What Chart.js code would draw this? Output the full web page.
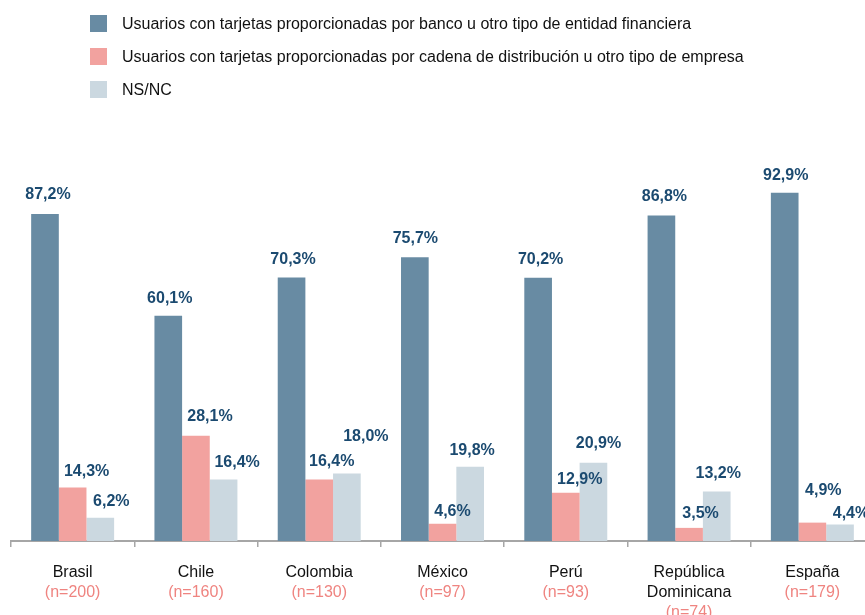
<!DOCTYPE html>
<html lang="es">
<head>
<meta charset="utf-8">
<title>Tarjetas por tipo de emisor</title>
<script src="https://cdn.jsdelivr.net/npm/chart.js@4.4.1/dist/chart.umd.min.js"></script>
<style>
  html, body { margin: 0; padding: 0; background: #fff; overflow: hidden; }
  #wrap { position: relative; width: 865px; height: 615px; overflow: hidden; }
  #chart { position: absolute; left: 0; top: 0; }
  #legend { position: absolute; left: 90px; top: 15px; font-family: "Liberation Sans", Arial, sans-serif; font-size: 16px; color: #111; }
  #legend .item { display: flex; align-items: center; height: 17px; margin-bottom: 16px; white-space: nowrap; }
  #legend .box { width: 17px; height: 17px; margin-right: 15px; flex: none; }
</style>
</head>
<body>
<div id="wrap">
  <canvas id="chart" width="874" height="615"></canvas>
  <div id="legend"></div>
</div>
<script>
// Countries (multi-line where the name wraps) and their sample sizes
const countries = [['Brasil'], ['Chile'], ['Colombia'], ['México'], ['Perú'], ['República', 'Dominicana'], ['España']];
const sampleSizes = [200, 160, 130, 97, 93, 74, 179];

// Share of card users by who issued the card (%)
const seriesNames = [
  'Usuarios con tarjetas proporcionadas por banco u otro tipo de entidad financiera',
  'Usuarios con tarjetas proporcionadas por cadena de distribución u otro tipo de empresa',
  'NS/NC'
];
const banco  = [87.2, 60.1, 70.3, 75.7, 70.2, 86.8, 92.9];
const cadena = [14.3, 28.1, 16.4, 4.6, 12.9, 3.5, 4.9];
const nsnc   = [6.2, 16.4, 18.0, 19.8, 20.9, 13.2, 4.4];

const colors = ['#688ba3', '#f2a29f', '#cbd8e0'];
const FONT = '"Liberation Sans", Arial, Helvetica, sans-serif';

// Per-label nudges [dx, rise above bar top] so value labels avoid each other
const labelNudge = [
  [[3, 19], [1.5, 17], [1.5, 18], [0.5, 19], [2.5, 18], [3, 19], [1, 17]],
  [[14, 16], [14, 19], [12.5, 18], [10, 12], [14, 13], [11.5, 14], [11, 32]],
  [[11, 16], [13.5, 17], [19, 37], [2, 16], [5, 19], [1.5, 18], [11, 11]]
];

const fmt = v => v.toFixed(1).replace('.', ',') + '%';

const TICK_LEN = 6, TICK_PAD = 16, LINE_H = 20;

const valueLabels = {
  id: 'valueLabels',
  afterDatasetsDraw(chart) {
    const ctx = chart.ctx;
    ctx.save();
    ctx.font = 'bold 16px ' + FONT;
    ctx.fillStyle = '#1b4a70';
    ctx.textAlign = 'center';
    ctx.textBaseline = 'middle';
    chart.data.datasets.forEach((ds, i) => {
      chart.getDatasetMeta(i).data.forEach((bar, j) => {
        const [dx, rise] = labelNudge[i][j];
        ctx.fillText(fmt(ds.data[j]), bar.x + dx, bar.y - rise);
      });
    });
    ctx.restore();
  }
};

const sampleLabels = {
  id: 'sampleLabels',
  afterDraw(chart) {
    const x = chart.scales.x;
    const ctx = chart.ctx;
    ctx.save();
    ctx.font = '16px ' + FONT;
    ctx.fillStyle = '#ef8480';
    ctx.textAlign = 'center';
    ctx.textBaseline = 'middle';
    const firstLine = x.top + TICK_LEN + TICK_PAD + LINE_H / 2;
    countries.forEach((lines, i) => {
      ctx.fillText('(n=' + sampleSizes[i] + ')', x.getPixelForTick(i), firstLine + LINE_H * lines.length);
    });
    ctx.restore();
  }
};

const chart = new Chart(document.getElementById('chart'), {
  type: 'bar',
  data: {
    labels: countries,
    datasets: [banco, cadena, nsnc].map((d, i) => ({
      label: seriesNames[i],
      data: d,
      backgroundColor: colors[i],
      borderWidth: 0,
      categoryPercentage: 0.673,
      barPercentage: 1.0
    }))
  },
  options: {
    responsive: false,
    animation: false,
    devicePixelRatio: 1,
    layout: { padding: { top: 166, left: 11, right: 0, bottom: 0 } },
    plugins: { legend: { display: false }, tooltip: { enabled: false } },
    scales: {
      x: {
        afterFit(scale) { scale.height = 74; },
        border: { display: true, color: '#a6a6a6', width: 2 },
        grid: { offset: true, drawOnChartArea: false, drawTicks: true, tickLength: TICK_LEN, color: '#a6a6a6', lineWidth: 1.5 },
        ticks: { color: '#111', padding: TICK_PAD, maxRotation: 0, autoSkip: false, font: { family: FONT, size: 16, lineHeight: LINE_H / 16 } }
      },
      y: { display: false, min: 0, max: 100 }
    }
  },
  plugins: [valueLabels, sampleLabels]
});

// Legend built from the chart's own datasets
const legend = document.getElementById('legend');
chart.data.datasets.forEach(ds => {
  const item = document.createElement('div');
  item.className = 'item';
  const box = document.createElement('span');
  box.className = 'box';
  box.style.background = ds.backgroundColor;
  const text = document.createElement('span');
  text.textContent = ds.label;
  item.appendChild(box);
  item.appendChild(text);
  legend.appendChild(item);
});
</script>
</body>
</html>
